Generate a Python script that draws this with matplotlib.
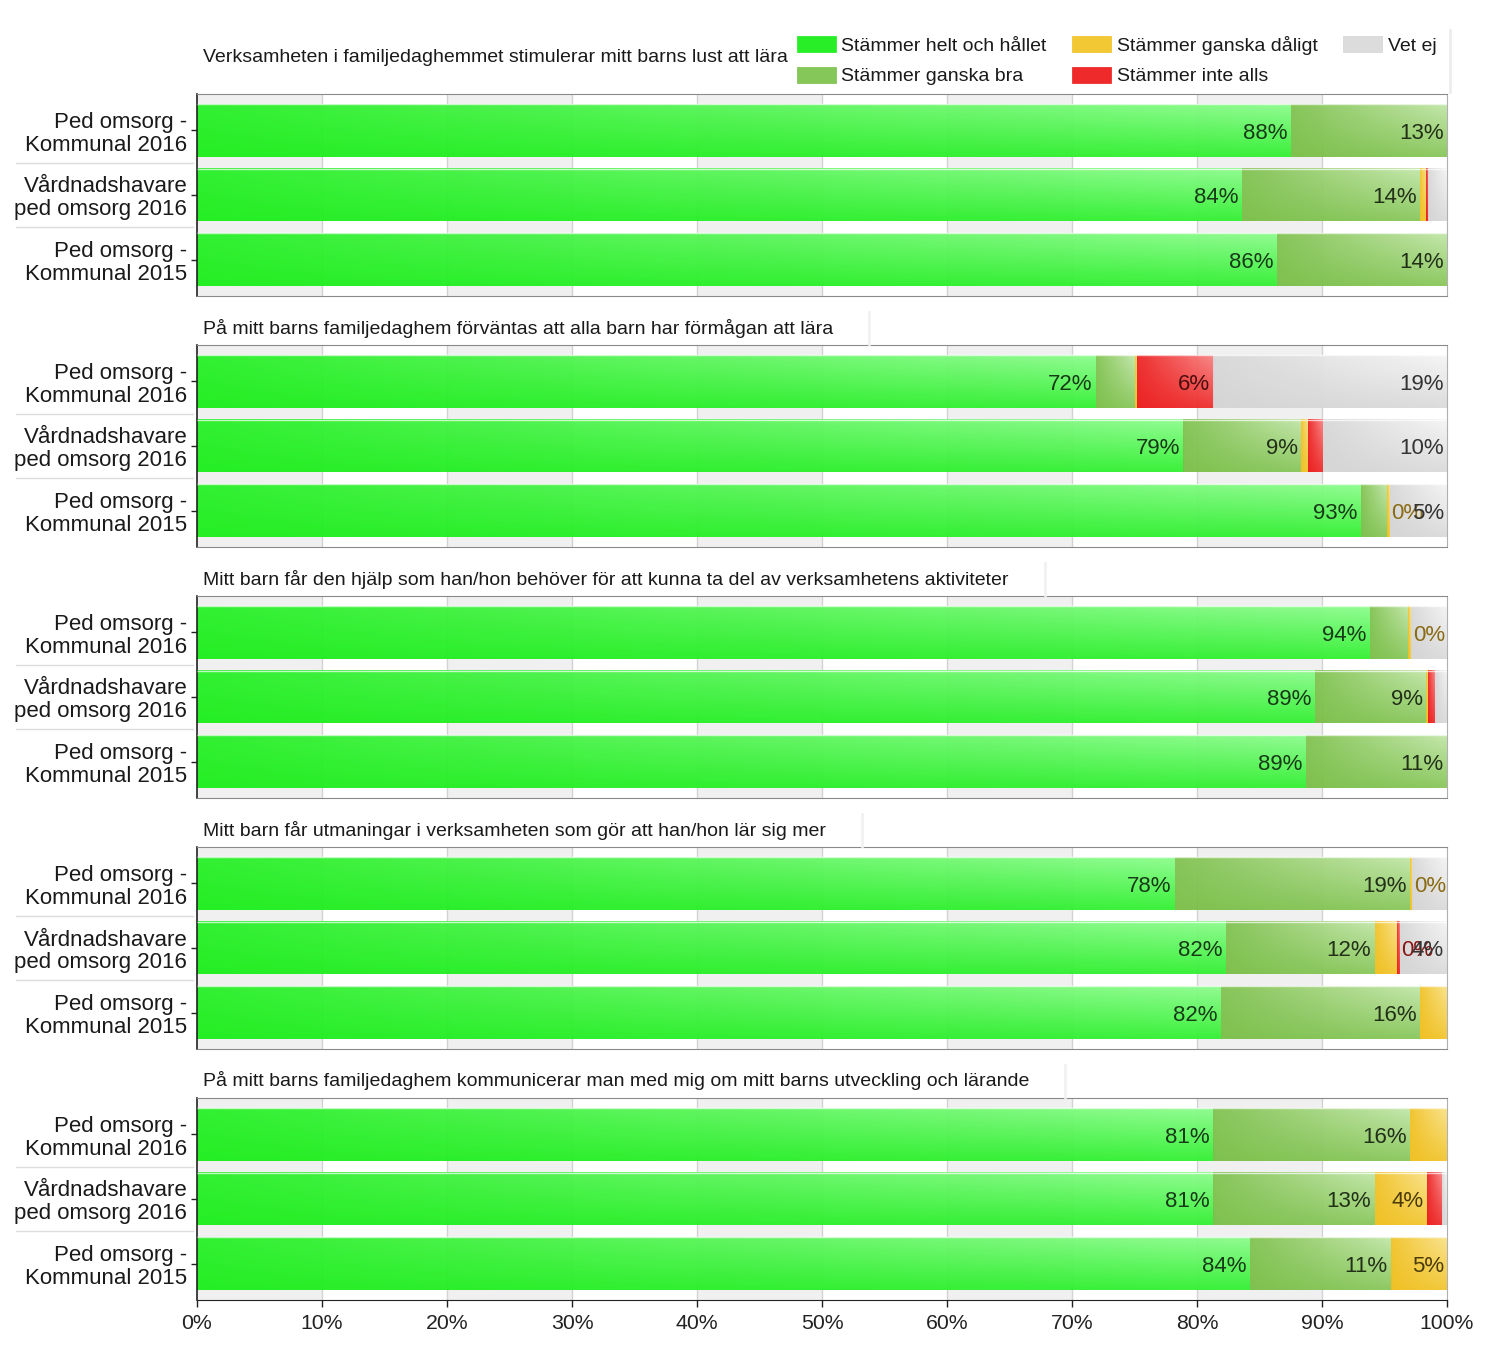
import numpy as np
import matplotlib
matplotlib.use('Agg')
import matplotlib.pyplot as plt
from matplotlib.colors import to_rgb
from matplotlib.patches import Patch
from matplotlib.lines import Line2D
from matplotlib.transforms import blended_transform_factory

plt.rcParams['font.family'] = ['Liberation Sans', 'DejaVu Sans']

categories = ['Stämmer helt och hållet', 'Stämmer ganska bra',
              'Stämmer ganska dåligt', 'Stämmer inte alls', 'Vet ej']
groups = ['Ped omsorg -\nKommunal 2016', 'Vårdnadshavare\nped omsorg 2016',
          'Ped omsorg -\nKommunal 2015']
questions = [
    'Verksamheten i familjedaghemmet stimulerar mitt barns lust att lära',
    'På mitt barns familjedaghem förväntas att alla barn har förmågan att lära',
    'Mitt barn får den hjälp som han/hon behöver för att kunna ta del av verksamhetens aktiviteter',
    'Mitt barn får utmaningar i verksamheten som gör att han/hon lär sig mer',
    'På mitt barns familjedaghem kommunicerar man med mig om mitt barns utveckling och lärande',
]
q1 = [[87.5, 12.5, 0.0, 0.0, 0.0], [83.6, 14.2, 0.5, 0.2, 1.5], [86.4, 13.6, 0.0, 0.0, 0.0]]
q2 = [[71.9, 3.1, 0.2, 6.1, 18.7], [78.9, 9.4, 0.6, 1.2, 9.9], [93.1, 2.1, 0.2, 0.0, 4.6]]
q3 = [[93.8, 3.1, 0.2, 0.0, 2.9], [89.4, 8.9, 0.2, 0.5, 1.0], [88.7, 11.3, 0.0, 0.0, 0.0]]
q4 = [[78.2, 18.8, 0.2, 0.0, 2.8], [82.3, 11.9, 1.8, 0.2, 3.8], [81.9, 15.9, 2.2, 0.0, 0.0]]
q5 = [[81.3, 15.7, 3.0, 0.0, 0.0], [81.3, 12.9, 4.2, 1.2, 0.4], [84.2, 11.3, 4.5, 0.0, 0.0]]
panels = [q1, q2, q3, q4, q5]
# (panel, row, category) where a tiny segment gets an outside "0%" label
outside_labels = [(1, 2, 2), (2, 0, 2), (3, 0, 2), (3, 1, 3)]
xticks = [0, 10, 20, 30, 40, 50, 60, 70, 80, 90, 100]
xticklabels = ['0%', '10%', '20%', '30%', '40%', '50%', '60%', '70%', '80%', '90%', '100%']

dark_cols = ['#1cee1c', '#7abf48', '#f0bf1c', '#ec1a1a', '#d4d4d4']
light_cols = ['#8cfc8c', '#c2e6a8', '#fae38c', '#f98484', '#f5f5f5']
legend_cols = ['#28ee28', '#86c75a', '#f2c834', '#ee2a2a', '#dcdcdc']
text_cols = ['#173a17', '#223018', '#4a3a08', '#4a0e0e', '#333333']
outside_text_cols = {2: '#8a6a12', 3: '#8b1414'}

W, H = 1500, 1354
fig = plt.figure(figsize=(W / 100, H / 100), dpi=100)

ax_left_px, ax_w_px = 197, 1250
box_tops = [94, 345, 596, 847, 1098]
box_h = 202
title_y = [58, 328, 579, 830, 1081]
bar_h = 0.82


def gradient(c0, c1, nx=80, ny=20):
    a = np.array(to_rgb(c0))
    b = np.array(to_rgb(c1))
    xn = np.linspace(0, 1, nx)[None, :]
    yn = np.linspace(0, 1, ny)[:, None]
    t = 0.12 * yn + 0.88 * xn * (0.25 + 0.75 * yn)
    t = np.clip(t, 0, 1)
    return a[None, None, :] * (1 - t[..., None]) + b[None, None, :] * t[..., None]


grads = [gradient(dark_cols[i], light_cols[i]) for i in range(5)]
nrows = len(groups)
title_texts = []

for p, data in enumerate(panels):
    bottom = 1 - (box_tops[p] + box_h) / H
    ax = fig.add_axes([ax_left_px / W, bottom, ax_w_px / W, box_h / H])
    # background stripes
    for k in range(0, 100, 20):
        ax.axvspan(k, k + 10, color='#f0f0f0', zorder=0, lw=0)
    for k in range(10, 100, 10):
        ax.axvline(k, color='#d2d2d2', lw=1, zorder=0.5)
    for r, row in enumerate(data):
        y = nrows - 1 - r
        left = 0.0
        for c, v in enumerate(row):
            if v > 0:
                ax.imshow(grads[c], extent=(left, left + v, y - bar_h / 2, y + bar_h / 2),
                          origin='lower', aspect='auto', interpolation='bilinear',
                          zorder=2, alpha=0.96)
                if v >= 3.5:
                    ax.text(left + v - 0.25, y - 0.04, f'{int(v + 0.5)}%', ha='right',
                            va='center', fontsize=16, color=text_cols[c], zorder=4)
                elif (p, r, c) in outside_labels:
                    ax.text(left + v + 0.15, y - 0.04, '0%', ha='left', va='center',
                            fontsize=16, color=outside_text_cols[c], zorder=4)
            left += v
        # top highlight line
        ax.plot([0, left], [y + bar_h / 2, y + bar_h / 2], color='white', lw=1.0,
                alpha=0.7, zorder=3, solid_capstyle='butt')
    ax.set_xlim(0, 100)
    ax.set_ylim(-0.565, nrows - 1 + 0.565)
    ax.set_yticks(range(nrows))
    ax.set_yticklabels(groups[::-1], fontsize=16, color='#1a1a1a', linespacing=1.12)
    ax.tick_params(axis='y', length=4, width=1, pad=3, color='#222222')
    ax.set_xticks(xticks)
    if p == len(panels) - 1:
        ax.set_xticklabels(xticklabels, fontsize=15.3, color='#222222')
        ax.tick_params(axis='x', length=5, width=1, color='#222222', pad=5)
        ax.spines['bottom'].set_color('#222222')
    else:
        ax.set_xticklabels([])
        ax.tick_params(axis='x', length=0)
        ax.spines['bottom'].set_color('#8a8a8a')
    ax.spines['left'].set_color('#222222')
    ax.spines['left'].set_linewidth(1.2)
    ax.spines['top'].set_color('#8a8a8a')
    ax.spines['right'].set_color('#b0b0b0')
    # separators between row labels
    trans = blended_transform_factory(ax.transAxes, ax.transData)
    for s in np.arange(0.5, nrows - 1, 1.0):
        ax.plot([-0.145, -0.003], [s, s], color='#dddddd', lw=1.0, transform=trans,
                clip_on=False, zorder=1)
    # title
    tt = fig.text(203 / W, 1 - title_y[p] / H, questions[p], fontsize=14, color='#1a1a1a',
                  ha='left', va='center')
    title_texts.append(tt)

# legend
handles = [Patch(facecolor=legend_cols[i], edgecolor=dark_cols[i], lw=0.5) for i in range(5)]
leg = fig.legend(handles, categories, ncol=3, loc='upper right',
                 bbox_to_anchor=(1450 / W, 1 - 22 / H), frameon=False,
                 fontsize=14, handlelength=2.0, handleheight=0.9, handletextpad=0.3,
                 columnspacing=1.3, labelspacing=0.62, borderpad=0.2)
for t in leg.get_texts():
    t.set_color('#1a1a1a')
fig.add_artist(Line2D([1450 / W, 1450 / W], [1 - 30 / H, 1 - 92 / H], color='#ededed', lw=2))

# faint shadow edge to the right of the title boxes (panels 2-5)
fig.canvas.draw()
renderer = fig.canvas.get_renderer()
for p in range(1, len(panels)):
    bb = title_texts[p].get_window_extent(renderer)
    xr = (bb.x1 + 36) / W
    fig.add_artist(Line2D([xr, xr], [1 - (title_y[p] - 16) / H, 1 - (box_tops[p] - 1) / H],
                          color='#f1f1f1', lw=2))

fig.savefig('out.png', dpi=100, facecolor='white')
